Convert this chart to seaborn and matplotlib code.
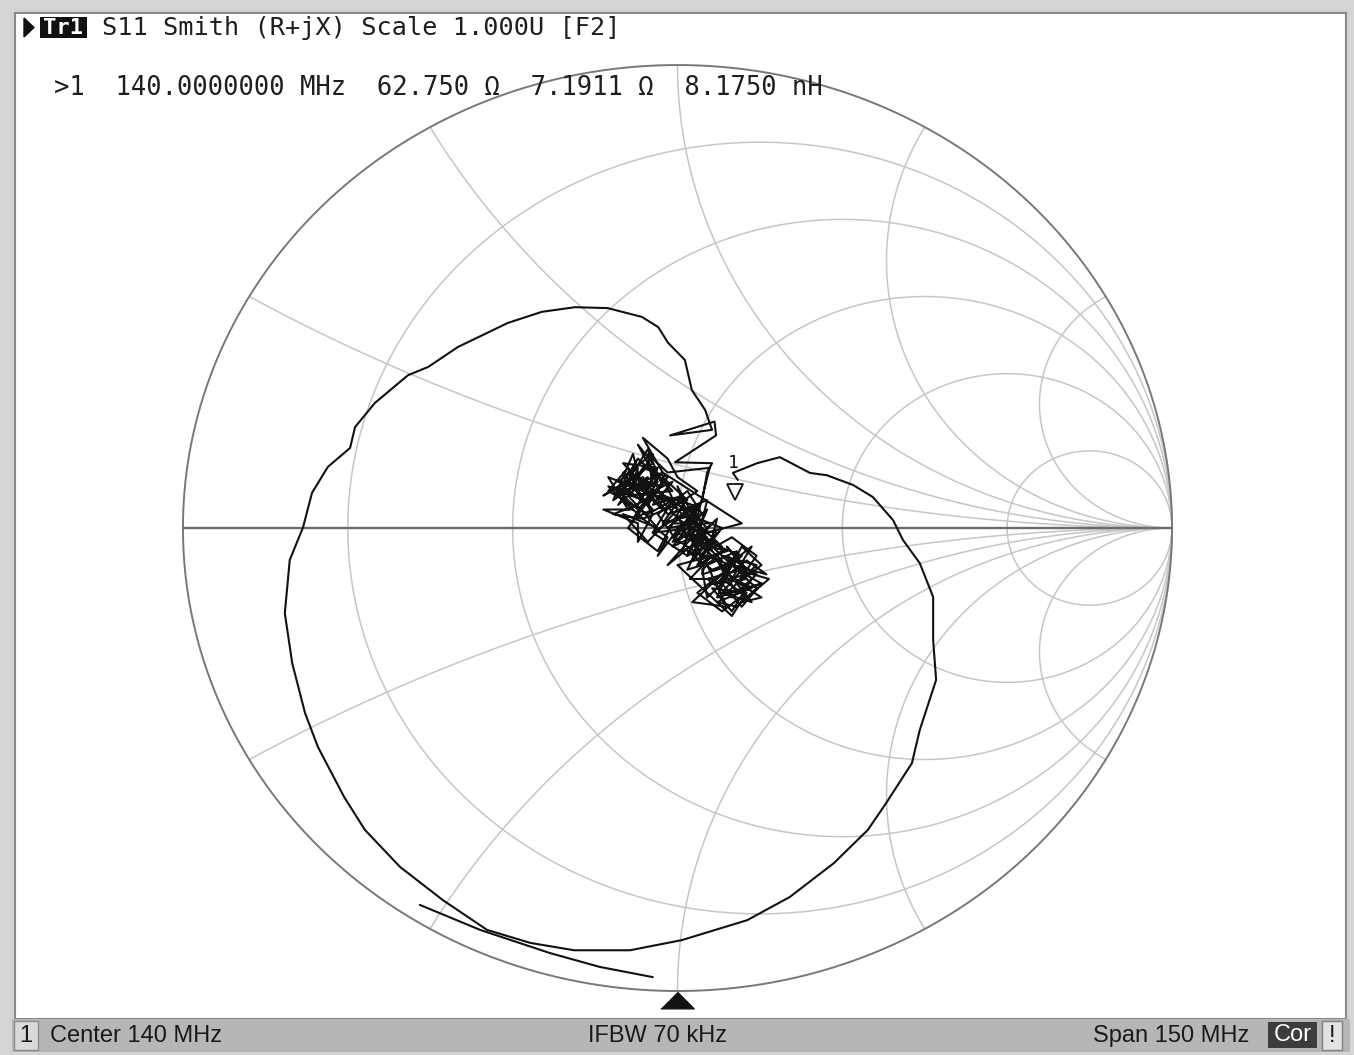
import numpy as np
import matplotlib
matplotlib.use("Agg")
import matplotlib.pyplot as plt
import seaborn as sns
from matplotlib.patches import Rectangle, Polygon

# S11 trace read off the screen, as reflection coefficient (real, imag)
# noisy scribble around the chart centre, in four passes NW lobe -> middle -> SE lobe -> back
scribble_nw_re = [-0.120, -0.080, -0.100, -0.060, -0.130, -0.090, -0.070, -0.140, -0.100, -0.050,
                  -0.110, -0.040, -0.080, -0.130, -0.070, -0.120, -0.060, -0.030, -0.090, -0.150,
                  -0.100, -0.050, -0.090, -0.040, -0.080, -0.050, -0.110, -0.060, -0.020, -0.070,
                  -0.120, -0.080, -0.030, -0.100, -0.140]
scribble_nw_im = [0.100, 0.130, 0.070, 0.110, 0.060, 0.160, 0.080, 0.110, 0.040, 0.070,
                  0.140, 0.130, 0.050, 0.030, 0.020, 0.070, 0.170, 0.090, 0.110, 0.070,
                  0.100, 0.040, 0.020, 0.100, 0.180, 0.140, 0.090, 0.050, 0.110, 0.130,
                  0.050, 0.090, 0.040, 0.130, 0.080]
scribble_mid_re = [-0.060, -0.010, -0.050, 0.010, -0.030, 0.030, -0.020, 0.040, 0.000, -0.040,
                   0.020, 0.050, 0.000, 0.060, 0.010, 0.040, -0.010, 0.070, 0.030, 0.080,
                   0.020, 0.050, -0.010, 0.030, 0.070, 0.040, 0.090, 0.010, 0.060, 0.030,
                   0.080, 0.000, 0.050, 0.090, 0.020]
scribble_mid_im = [0.030, 0.060, -0.010, 0.030, 0.070, 0.050, 0.000, 0.010, -0.030, 0.030,
                   0.080, 0.030, 0.020, -0.020, -0.050, 0.050, 0.010, 0.010, -0.040, -0.030,
                   -0.010, -0.060, -0.020, 0.020, -0.050, -0.020, -0.040, 0.040, 0.060, -0.070,
                   -0.010, 0.000, -0.030, -0.070, -0.050]
scribble_se_re = [0.070, 0.120, 0.080, 0.140, 0.100, 0.160, 0.110, 0.060, 0.130, 0.090,
                  0.150, 0.120, 0.170, 0.130, 0.100, 0.150, 0.080, 0.120, 0.160, 0.110,
                  0.180, 0.140, 0.090, 0.130, 0.070, 0.110, 0.150, 0.100, 0.140, 0.080,
                  0.120, 0.170, 0.130, 0.090, 0.060]
scribble_se_im = [-0.090, -0.070, -0.120, -0.110, -0.060, -0.100, -0.150, -0.110, -0.090, -0.140,
                  -0.160, -0.120, -0.080, -0.040, -0.100, -0.130, -0.160, -0.170, -0.130, -0.080,
                  -0.100, -0.070, -0.110, -0.140, -0.130, -0.180, -0.110, -0.040, -0.090, -0.070,
                  -0.140, -0.120, -0.170, -0.120, -0.150]
scribble_back_re = [0.050, 0.090, 0.040, 0.070, 0.020, 0.050, -0.010, 0.030, -0.030, 0.010,
                    -0.050, -0.010, -0.070, -0.030, -0.090, -0.050, -0.100, -0.060, -0.120, -0.080,
                    -0.040, 0.000, 0.040, 0.000, -0.020, -0.070, -0.030, 0.130, 0.060, -0.020,
                    0.030]
scribble_back_im = [-0.090, -0.050, -0.080, -0.030, -0.060, 0.000, -0.030, 0.030, 0.010, 0.070,
                    0.050, 0.100, 0.070, 0.120, 0.090, 0.160, 0.120, 0.090, 0.080, 0.040,
                    0.080, 0.050, 0.080, 0.110, 0.150, 0.195, 0.120, 0.010, -0.010, -0.080,
                    -0.020]
cluster_re = [0.065, -0.020, -0.060, -0.050, -0.110, -0.070, -0.140, -0.090, -0.150, -0.080,
              -0.080, -0.050, -0.090, -0.030, -0.060, -0.010, -0.100, -0.040, -0.110, -0.060,
              0.000, -0.030, 0.020, -0.070, -0.020, -0.040, 0.010, -0.040, 0.040, -0.010,
              0.050, 0.000, 0.030, -0.050, 0.020, 0.060, 0.010, 0.070, 0.020, 0.090,
              0.040, 0.100, 0.030, 0.080, 0.050, 0.110, 0.060, 0.130, 0.070, 0.140,
              0.090, 0.160, 0.100, 0.170, 0.120, 0.185, 0.130, 0.170, 0.110, 0.150,
              0.090, 0.140, 0.080, 0.120, 0.060, 0.100, 0.030, 0.080, 0.025, 0.070,
              0.000, 0.050, 0.110, 0.140, 0.090, 0.040, 0.100, 0.050, 0.000, 0.040,
              -0.020, -0.070, -0.120, -0.080, -0.030, -0.100, -0.040, 0.010, 0.060, 0.020,
              0.080, 0.120, 0.160, 0.110, 0.060, 0.020, 0.050, 0.060]
cluster_im = [0.130, 0.120, 0.160, 0.090, 0.120, 0.060, 0.090, 0.040, 0.040, 0.010,
              -0.030, 0.030, 0.100, 0.060, 0.140, 0.080, 0.070, 0.000, 0.030, -0.030,
              0.040, 0.110, 0.060, 0.020, -0.020, -0.060, 0.010, 0.070, 0.030, -0.040,
              -0.010, 0.090, 0.000, -0.010, -0.060, 0.040, -0.010, -0.040, 0.030, 0.000,
              -0.070, -0.050, -0.030, 0.020, -0.100, -0.080, -0.030, -0.060, -0.120, -0.100,
              -0.060, -0.080, -0.140, -0.120, -0.090, -0.110, -0.160, -0.150, -0.110, -0.040,
              -0.090, -0.130, -0.150, -0.050, -0.080, -0.170, -0.160, -0.110, -0.110, -0.060,
              -0.080, -0.130, -0.190, -0.140, -0.180, -0.140, -0.090, -0.040, -0.010, 0.050,
              0.030, 0.110, 0.080, 0.150, 0.100, 0.000, -0.050, 0.050, 0.000, -0.090,
              -0.070, -0.120, -0.060, -0.020, -0.050, 0.000, 0.060, 0.120]

# big loop, leaving the cluster upwards and coming back from the right
loop_re = [0.070, -0.005, 0.078, 0.075, -0.015, 0.070, 0.056, 0.029, 0.015, -0.019,
           -0.039, -0.072, -0.141, -0.207, -0.274, -0.343, -0.444, -0.504, -0.545, -0.612,
           -0.652, -0.662, -0.707, -0.739, -0.757, -0.784, -0.794, -0.779, -0.753, -0.727,
           -0.674, -0.632, -0.561, -0.474, -0.385, -0.298, -0.209, -0.096, 0.009, 0.141,
           0.227, 0.316, 0.385, 0.422, 0.474, 0.490, 0.523, 0.517, 0.517, 0.490,
           0.456, 0.436, 0.395, 0.355, 0.302, 0.268, 0.207, 0.161, 0.112, 0.122]
loop_im = [0.140, 0.142, 0.200, 0.230, 0.200, 0.212, 0.255, 0.298, 0.363, 0.400,
           0.434, 0.456, 0.475, 0.477, 0.467, 0.443, 0.391, 0.348, 0.330, 0.270,
           0.218, 0.173, 0.132, 0.076, 0.002, -0.069, -0.184, -0.292, -0.400, -0.473,
           -0.581, -0.652, -0.732, -0.804, -0.868, -0.896, -0.912, -0.912, -0.890, -0.847,
           -0.797, -0.724, -0.652, -0.594, -0.508, -0.436, -0.328, -0.242, -0.149, -0.076,
           -0.026, 0.017, 0.067, 0.093, 0.114, 0.119, 0.153, 0.140, 0.119, 0.104]

# short separate piece at the bottom
tail_re = [-0.521, -0.399, -0.258, -0.157, -0.050]
tail_im = [-0.814, -0.868, -0.918, -0.948, -0.970]

# grid: constant resistance circles and constant reactance arcs
r_circles = [0.2, 0.5, 1.0, 2.0, 5.0]
x_arcs = [0.268, 0.577, 1.0, 1.732, 3.732]

# marker 1 readout
marker_freq_mhz = 140.0
marker_r = 62.750
marker_x = 7.1911
marker_l_nh = 8.1750
z0 = 50.0

header = "S11 Smith (R+jX) Scale 1.000U [F2]"
status_left = "Center 140 MHz"
status_mid = "IFBW 70 kHz"
status_right = "Span 150 MHz"

sns.set_theme(style="white")
plt.rcParams["font.family"] = ["DejaVu Sans"]

W, H = 1354, 1055
fig = plt.figure(figsize=(W / 100, H / 100), dpi=100)
fig.patch.set_facecolor("#d4d4d4")


def fx(x):
    return x / W


def fy(y):
    return 1 - y / H


def box(x0, y0, x1, y1, fc, ec="none", lw=1.0):
    fig.add_artist(Rectangle((fx(x0), fy(y1)), fx(x1) - fx(x0), fy(y0) - fy(y1),
                             transform=fig.transFigure, facecolor=fc, edgecolor=ec,
                             lw=lw, zorder=0))


# screen frame and status bar
box(15, 13, 1346, 1019, "white", "#8a8a8a", 1.5)
box(12, 1019, 1350, 1052, "#b6b6b6")
box(14, 1021, 38, 1050, "#dadada", "#8a8a8a", 1.0)
box(1268, 1022, 1317, 1048, "#3c3c3c")
box(1322, 1021, 1342, 1050, "#e2e2e2", "#808080", 1.0)

ax = fig.add_axes([0.1205, 0.0431, 0.7597, 0.9128])
ax.set_xlim(-1.04, 1.04)
ax.set_ylim(-1.04, 1.04)
ax.axis("off")
ax.patch.set_alpha(0)

grid_col = "#c6c6c6"
th = np.linspace(0, 2 * np.pi, 600)
for r in r_circles:
    ax.plot(r / (1 + r) + np.cos(th) / (1 + r), np.sin(th) / (1 + r),
            color=grid_col, lw=1.1, zorder=1)

rr = np.tan(np.linspace(0, np.pi / 2 - 1e-4, 800))
for x in x_arcs:
    for sgn in (1, -1):
        z = rr + 1j * sgn * x
        g = (z - 1) / (z + 1)
        ax.plot(g.real, g.imag, color=grid_col, lw=1.1, zorder=1)

# outer circle and real axis
ax.plot(np.cos(th), np.sin(th), color="#787878", lw=1.4, zorder=2)
g0 = (rr - 1) / (rr + 1)
ax.plot(g0, np.zeros_like(g0), color="#6c6c6c", lw=1.7, zorder=2)

# trace
trace_re = (scribble_nw_re + scribble_mid_re + scribble_se_re + scribble_back_re
            + cluster_re + loop_re)
trace_im = (scribble_nw_im + scribble_mid_im + scribble_se_im + scribble_back_im
            + cluster_im + loop_im)
sns.lineplot(x=trace_re, y=trace_im, sort=False, estimator=None,
             color="#111111", linewidth=1.5, ax=ax, zorder=3)
sns.lineplot(x=tail_re, y=tail_im, sort=False, estimator=None,
             color="#111111", linewidth=1.5, ax=ax, zorder=3)

# marker 1
zm = complex(marker_r, marker_x) / z0
gm = (zm - 1) / (zm + 1)
ax.plot(gm.real, gm.imag + 0.022, marker="v", ms=12, mfc="white", mec="#111111",
        mew=1.3, zorder=4)
ax.text(gm.real - 0.004, gm.imag + 0.085, "1", fontsize=13, color="#111111",
        ha="center", va="center", family="DejaVu Sans Mono", zorder=4)

# reference position triangle below the chart
ax.plot(0, -1.019, marker=[(-1, -0.5), (1, -0.5), (0, 0.5)], ms=24,
        color="#111111", clip_on=False, zorder=4)

# header lines
fig.add_artist(Polygon([(fx(24), fy(18)), (fx(24), fy(37)), (fx(34), fy(27.5))],
                       closed=True, transform=fig.transFigure, color="#111111"))
box(40, 17, 87, 38, "#111111")
fig.text(fx(63.5), fy(27.5), "Tr1", color="white", fontsize=16, fontweight="bold",
         family="DejaVu Sans Mono", ha="center", va="center")
fig.text(fx(102), fy(28), header, fontsize=18.2, family="DejaVu Sans Mono",
         color="#1e1e1e", va="center")
readout = (f">1  {marker_freq_mhz:.7f} MHz  {marker_r:.3f} \u03a9  "
           f"{marker_x:.4f} \u03a9  {marker_l_nh:.4f} nH")
fig.text(fx(54), fy(88), readout, fontsize=18.4, family="DejaVu Sans Mono",
         color="#1e1e1e", va="center")

# status bar texts
sb = dict(fontsize=17, family="Liberation Sans", color="#1a1a1a", va="center")
fig.text(fx(26), fy(1036), "1", ha="center", **sb)
fig.text(fx(50), fy(1036), status_left, ha="left", **sb)
fig.text(fx(657), fy(1036), status_mid, ha="center", **sb)
fig.text(fx(1249), fy(1036), status_right, ha="right", **sb)
fig.text(fx(1292.5), fy(1035), "Cor", ha="center", fontsize=17,
         family="Liberation Sans", color="white", va="center")
fig.text(fx(1332), fy(1036), "!", ha="center", **sb)

fig.savefig("out.png", dpi=100, facecolor=fig.get_facecolor())
